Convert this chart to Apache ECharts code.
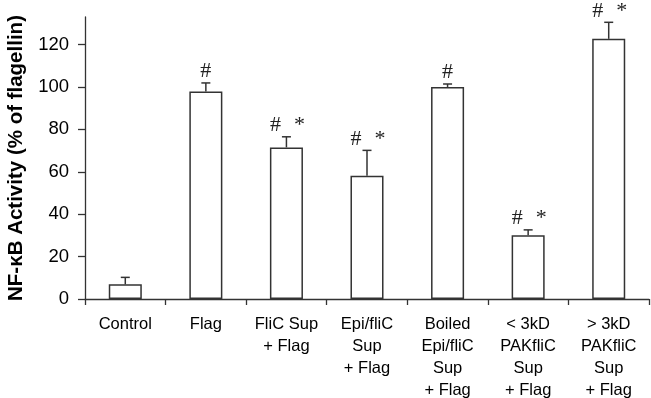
<!DOCTYPE html>
<html>
<head>
<meta charset="utf-8">
<script src="https://cdn.jsdelivr.net/npm/echarts@6/dist/echarts.min.js"></script>
<style>
  html, body { margin: 0; padding: 0; background: #fff; }
  #chart { width: 651px; height: 398px; }
</style>
</head>
<body>
<div id="chart"></div>
<script>
// groups on the x axis
var categories = [
  'Control',
  'Flag',
  'FliC Sup\n+ Flag',
  'Epi/fliC\nSup\n+ Flag',
  'Boiled\nEpi/fliC\nSup\n+ Flag',
  '< 3kD\nPAKfliC\nSup\n+ Flag',
  '> 3kD\nPAKfliC\nSup\n+ Flag'
]
// mean NF-kB activity, % of flagellin
var means = [6.9, 97.9, 71.5, 58.1, 100, 30.1, 122.7]
// error (upper arm only)
var errors = [3.3, 4.0, 5.0, 12.0, 1.4, 2.5, 7.8]
// significance marks
var hashMarks = [false, true, true, true, true, true, true]
var starMarks = [false, false, true, true, false, true, true]
var yTicks = [0, 20, 40, 60, 80, 100, 120]

var lineColor = '#333'

var chart = echarts.init(document.getElementById('chart'))

chart.setOption({
  animation: false,
  grid: {
    left: 85,
    right: 2,
    top: 17,
    bottom: 99,
    containLabel: false,
    outerBoundsMode: 'none'
  },
  xAxis: {
    type: 'category',
    data: categories,
    axisLine: { lineStyle: { color: lineColor, width: 1.3 } },
    axisTick: { show: true, length: 6, lineStyle: { color: lineColor, width: 1.3 } },
    axisLabel: {
      interval: 0,
      margin: 14,
      color: '#000',
      fontFamily: 'Liberation Sans, Arial, sans-serif',
      fontSize: 16.5,
      lineHeight: 22,
      align: 'center'
    }
  },
  yAxis: {
    type: 'value',
    min: yTicks[0],
    max: 133,
    interval: 20,
    name: 'NF-κB Activity (% of flagellin)',
    nameLocation: 'middle',
    nameGap: 56,
    nameTextStyle: {
      color: '#000',
      fontFamily: 'Liberation Sans, Arial, sans-serif',
      fontSize: 20.5,
      fontWeight: 'bold'
    },
    axisLine: { show: true, lineStyle: { color: lineColor, width: 1.3 } },
    axisTick: { show: true, inside: false, length: 7, lineStyle: { color: lineColor, width: 1.3 } },
    splitLine: { show: false },
    axisLabel: {
      margin: 16,
      color: '#000',
      fontFamily: 'Liberation Sans, Arial, sans-serif',
      fontSize: 18.5,
      showMaxLabel: false
    }
  },
  series: [
    {
      type: 'bar',
      data: means,
      barWidth: '41%',
      itemStyle: {
        color: '#fff',
        borderColor: lineColor,
        borderWidth: 1.5
      },
      z: 2
    },
    {
      type: 'custom',
      data: means.map(function (m, i) { return [i, m, m + errors[i]] }),
      z: 3,
      renderItem: function (params, api) {
        var i = api.value(0)
        var base = api.coord([i, api.value(1)])
        var top = api.coord([i, api.value(2)])
        var x = base[0]
        var cap = 4.5
        var children = [
          { type: 'line', shape: { x1: x, y1: base[1], x2: x, y2: top[1] },
            style: { stroke: lineColor, lineWidth: 1.5 } },
          { type: 'line', shape: { x1: x - cap, y1: top[1], x2: x + cap, y2: top[1] },
            style: { stroke: lineColor, lineWidth: 1.5 } }
        ]
        var both = hashMarks[i] && starMarks[i]
        var font = '22px "Liberation Serif", "Times New Roman", serif'
        if (hashMarks[i]) {
          children.push({
            type: 'text',
            style: {
              text: '#', x: both ? x - 11 : x, y: top[1] - 0.5,
              align: 'center', verticalAlign: 'bottom', font: font, fill: '#222'
            }
          })
        }
        if (starMarks[i]) {
          children.push({
            type: 'text',
            style: {
              text: '*', x: x + 13, y: top[1] - 0.5,
              align: 'center', verticalAlign: 'bottom', font: font, fill: '#222'
            }
          })
        }
        return { type: 'group', children: children }
      }
    }
  ]
})
</script>
</body>
</html>
